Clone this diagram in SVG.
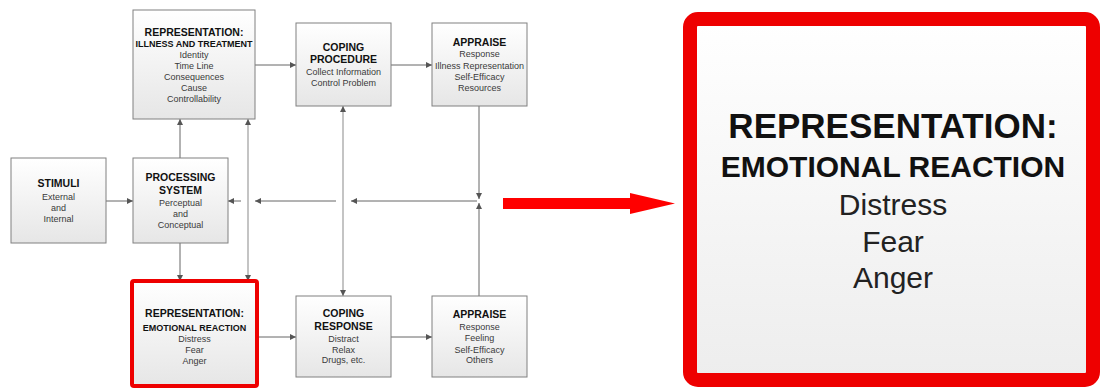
<svg xmlns="http://www.w3.org/2000/svg" width="1101" height="389" viewBox="0 0 1101 389">
<style>
text{font-family:"Liberation Sans",Arial,sans-serif;text-anchor:middle}
.t{font-size:10.5px;font-weight:bold;fill:#111}
.s{font-size:9px;font-weight:bold;fill:#111}
.r{font-size:9px;fill:#3a3a3a}
.box{fill:url(#g);stroke:#808080;stroke-width:1}
.c{fill:none;stroke:#666;stroke-width:1}
.cl{fill:none;stroke:#b0b0b0;stroke-width:1.5}
.a{marker-end:url(#ah)}
.as{marker-start:url(#ahs)}
</style>
<defs>
<linearGradient id="g" x1="0" y1="0" x2="0" y2="1">
<stop offset="0" stop-color="#ffffff"/>
<stop offset="1" stop-color="#e6e6e6"/>
</linearGradient>
<linearGradient id="g2" x1="0" y1="0" x2="0" y2="1">
<stop offset="0" stop-color="#ffffff"/>
<stop offset="1" stop-color="#ededed"/>
</linearGradient>
<marker id="ah" markerUnits="userSpaceOnUse" markerWidth="6" markerHeight="6" refX="6" refY="3" orient="auto">
<path d="M0,0 L6,3 L0,6 z" fill="#555"/>
</marker>
<marker id="ahs" markerUnits="userSpaceOnUse" markerWidth="6" markerHeight="6" refX="0" refY="3" orient="auto">
<path d="M6,0 L0,3 L6,6 z" fill="#555"/>
</marker>
</defs>
<rect width="1101" height="389" fill="#fff"/>

<g id="connectors">
<line class="c a" x1="255" y1="65" x2="296" y2="65"/>
<line class="c a" x1="391" y1="65" x2="432" y2="65"/>
<line class="c a" x1="106" y1="201" x2="133" y2="201"/>
<line class="c a" x1="180" y1="158" x2="180" y2="119"/>
<line class="c a" x1="180" y1="243" x2="180" y2="281"/>
<line class="cl a as" x1="248" y1="119" x2="248" y2="281"/>
<line class="cl a as" x1="343" y1="106" x2="343" y2="296"/>
<line class="c a" x1="479" y1="106" x2="479" y2="199"/>
<line class="c a" x1="479" y1="296" x2="479" y2="203"/>
<line class="c a" x1="477" y1="201" x2="351" y2="201"/>
<line class="c a" x1="336" y1="201" x2="255" y2="201"/>
<line class="c a" x1="241" y1="201" x2="228" y2="201"/>
<line class="c a" x1="257" y1="337" x2="296" y2="337"/>
<line class="c a" x1="391" y1="337" x2="432" y2="337"/>
<path d="M503,198 L630,198 L630,193 L675,203.5 L630,214 L630,209 L503,209 z" fill="#ff0000"/>
</g>

<g id="illness">
<rect class="box" x="133" y="10" width="122" height="109"/>
<text class="t" x="194" y="36">REPRESENTATION:</text>
<text class="s" x="194" y="47">ILLNESS AND TREATMENT</text>
<text class="r" x="194" y="57.5">Identity</text>
<text class="r" x="194" y="68.5">Time Line</text>
<text class="r" x="194" y="79.5">Consequences</text>
<text class="r" x="194" y="90.5">Cause</text>
<text class="r" x="194" y="101.5">Controllability</text>
</g>

<g id="coping-procedure">
<rect class="box" x="296" y="23" width="95" height="83"/>
<text class="t" x="343.5" y="51">COPING</text>
<text class="t" x="343.5" y="63">PROCEDURE</text>
<text class="r" x="343.5" y="74.5">Collect Information</text>
<text class="r" x="343.5" y="85.5">Control Problem</text>
</g>

<g id="appraise-top">
<rect class="box" x="432" y="23" width="95" height="83"/>
<text class="t" x="479.5" y="46">APPRAISE</text>
<text class="r" x="479.5" y="57">Response</text>
<text class="r" x="479.5" y="68.5">Illness Representation</text>
<text class="r" x="479.5" y="79.5">Self-Efficacy</text>
<text class="r" x="479.5" y="90.5">Resources</text>
</g>

<g id="stimuli">
<rect class="box" x="11" y="158" width="95" height="85"/>
<text class="t" x="58.5" y="187">STIMULI</text>
<text class="r" x="58.5" y="199.5">External</text>
<text class="r" x="58.5" y="210.5">and</text>
<text class="r" x="58.5" y="221.5">Internal</text>
</g>

<g id="processing">
<rect class="box" x="133" y="158" width="95" height="85"/>
<text class="t" x="180.5" y="181">PROCESSING</text>
<text class="t" x="180.5" y="193.5">SYSTEM</text>
<text class="r" x="180.5" y="205.5">Perceptual</text>
<text class="r" x="180.5" y="216.5">and</text>
<text class="r" x="180.5" y="227.5">Conceptual</text>
</g>

<g id="emotional">
<rect x="132" y="281" width="125" height="105" rx="2" fill="url(#g)" stroke="#ee0000" stroke-width="4"/>
<text class="t" x="194.5" y="317">REPRESENTATION:</text>
<text class="s" x="194.5" y="330.5">EMOTIONAL REACTION</text>
<text class="r" x="194.5" y="341.5">Distress</text>
<text class="r" x="194.5" y="352.5">Fear</text>
<text class="r" x="194.5" y="363.5">Anger</text>
</g>

<g id="coping-response">
<rect class="box" x="296" y="296" width="95" height="81"/>
<text class="t" x="343.5" y="317">COPING</text>
<text class="t" x="343.5" y="330">RESPONSE</text>
<text class="r" x="343.5" y="341.5">Distract</text>
<text class="r" x="343.5" y="352.5">Relax</text>
<text class="r" x="343.5" y="362.5">Drugs, etc.</text>
</g>

<g id="appraise-bottom">
<rect class="box" x="432" y="296" width="95" height="81"/>
<text class="t" x="479.5" y="318">APPRAISE</text>
<text class="r" x="479.5" y="329.5">Response</text>
<text class="r" x="479.5" y="340.5">Feeling</text>
<text class="r" x="479.5" y="352.5">Self-Efficacy</text>
<text class="r" x="479.5" y="362.5">Others</text>
</g>

<g id="zoomed-emotional">
<rect x="690" y="19" width="403" height="361" rx="8" fill="url(#g2)" stroke="#ee0000" stroke-width="14"/>
<text x="893" y="138" style="font-size:35px;font-weight:bold;fill:#111">REPRESENTATION:</text>
<text x="893" y="177" style="font-size:30px;font-weight:bold;fill:#111">EMOTIONAL REACTION</text>
<text x="893" y="215" style="font-size:30px;fill:#222">Distress</text>
<text x="893" y="252" style="font-size:30px;fill:#222">Fear</text>
<text x="893" y="288" style="font-size:30px;fill:#222">Anger</text>
</g>
</svg>
